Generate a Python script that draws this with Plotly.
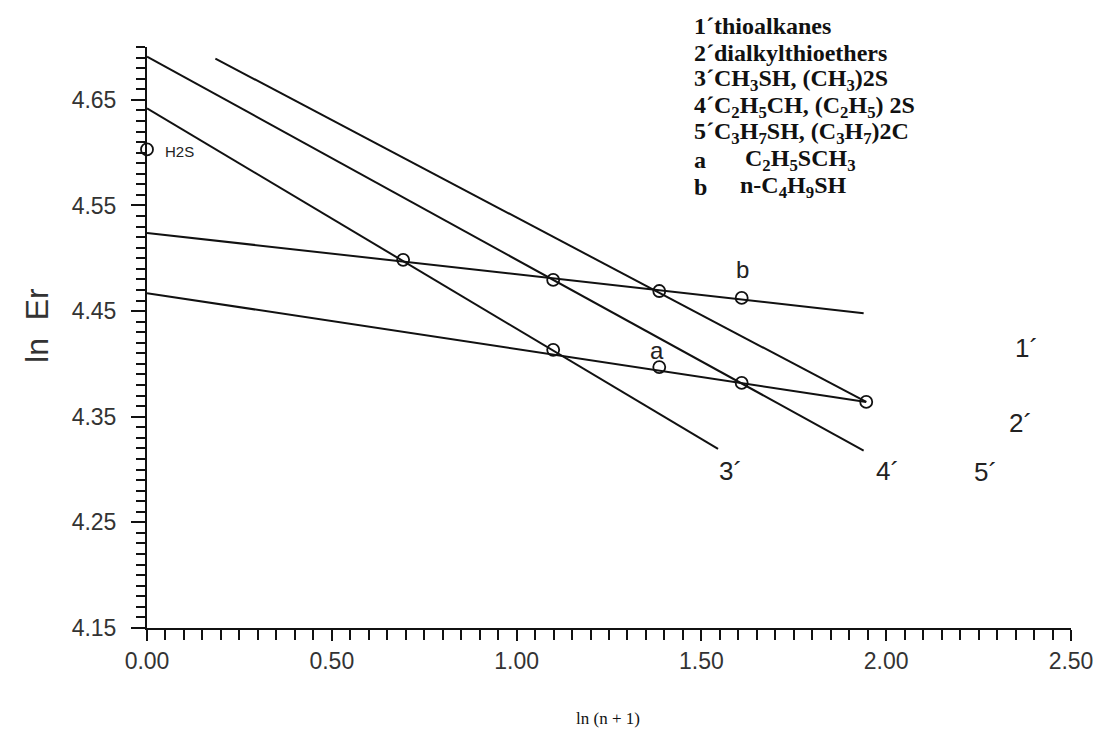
import plotly.graph_objects as go

# ---- data ----
line1_x = [0.0, 1.939]          # 1' thioalkanes
line1_y = [4.524, 4.448]
line2_x = [0.0, 1.946]          # 2' dialkylthioethers
line2_y = [4.467, 4.364]
line3_x = [0.0, 1.545]          # 3' CH3SH, (CH3)2S
line3_y = [4.642, 4.3195]
line4_x = [0.0, 1.939]          # 4' C2H5SH, (C2H5)2S
line4_y = [4.691, 4.318]
line5_x = [0.185, 1.946]        # 5' C3H7SH, (C3H7)2S
line5_y = [4.689, 4.364]

point_x = [0.0, 0.693, 1.099, 1.386, 1.609, 1.099, 1.386, 1.609, 1.946]
point_y = [4.603, 4.4985, 4.4795, 4.469, 4.4625, 4.4133, 4.397, 4.382, 4.364]

ytick_vals = [4.15, 4.25, 4.35, 4.45, 4.55, 4.65]
ytick_text = ["4.15", "4.25", "4.35", "4.45", "4.55", "4.65"]
xtick_vals = [0.0, 0.5, 1.0, 1.5, 2.0, 2.5]
xtick_text = ["0.00", "0.50", "1.00", "1.50", "2.00", "2.50"]

legend_lines = [
    "1´thioalkanes",
    "2´dialkylthioethers",
    "3´CH<sub>3</sub>SH, (CH<sub>3</sub>)2S",
    "4´C<sub>2</sub>H<sub>5</sub>CH, (C<sub>2</sub>H<sub>5</sub>) 2S",
    "5´C<sub>3</sub>H<sub>7</sub>SH, (C<sub>3</sub>H<sub>7</sub>)2C",
]
legend_keys = ["a", "b"]
legend_formulas = ["C<sub>2</sub>H<sub>5</sub>SCH<sub>3</sub>", "n-C<sub>4</sub>H<sub>9</sub>SH"]

line_labels = ["1´", "2´", "3´", "4´", "5´"]
line_label_x = [2.342, 2.328, 1.542, 1.966, 2.232]
line_label_y = [4.415, 4.344, 4.2985, 4.2985, 4.2977]

fig = go.Figure()
for xs, ys in [(line1_x, line1_y), (line2_x, line2_y), (line3_x, line3_y),
               (line4_x, line4_y), (line5_x, line5_y)]:
    fig.add_trace(go.Scatter(x=xs, y=ys, mode="lines",
                             line=dict(color="#111111", width=2),
                             showlegend=False, hoverinfo="skip"))

fig.add_trace(go.Scatter(x=point_x, y=point_y, mode="markers",
                         marker=dict(symbol="circle-open", size=12,
                                     color="#111111", line=dict(width=1.8)),
                         showlegend=False, cliponaxis=False))

sans = "Liberation Sans, Arial, sans-serif"
serif = "Liberation Serif, Times New Roman, serif"

ann = []
for t, x, y in zip(line_labels, line_label_x, line_label_y):
    ann.append(dict(x=x, y=y, xref="x", yref="y", text=t, showarrow=False,
                    xanchor="left", yanchor="middle",
                    font=dict(family=sans, size=26, color="#222")))
ann.append(dict(x=1.381, y=4.413, xref="x", yref="y", text="a", showarrow=False,
                font=dict(family=sans, size=24, color="#222")))
ann.append(dict(x=1.612, y=4.489, xref="x", yref="y", text="b", showarrow=False,
                font=dict(family=sans, size=24, color="#222")))
ann.append(dict(x=0.043, y=4.601, xref="x", yref="y", text="H2S", showarrow=False,
                xanchor="left", yanchor="middle",
                font=dict(family=sans, size=15, color="#222")))

# legend block (top right)
px_left, px_w = 147, 932
py_bottom, py_h = 628, 581
leg_y_px = [26, 53, 80, 107, 133, 160, 187]
for i, t in enumerate(legend_lines):
    ann.append(dict(x=(697 - px_left) / px_w, y=(py_bottom - leg_y_px[i]) / py_h,
                    xref="paper", yref="paper", text="<b>" + t + "</b>",
                    showarrow=False, xanchor="left", yanchor="middle",
                    font=dict(family=serif, size=24, color="#111")))
for j, (k, f) in enumerate(zip(legend_keys, legend_formulas)):
    ypx = leg_y_px[5 + j]
    ann.append(dict(x=(697 - px_left) / px_w, y=(py_bottom - ypx) / py_h,
                    xref="paper", yref="paper", text="<b>" + k + "</b>",
                    showarrow=False, xanchor="left", yanchor="middle",
                    font=dict(family=serif, size=24, color="#111")))
    ann.append(dict(x=((748 if j == 0 else 743) - px_left) / px_w,
                    y=(py_bottom - ypx) / py_h,
                    xref="paper", yref="paper", text="<b>" + f + "</b>",
                    showarrow=False, xanchor="left", yanchor="middle",
                    font=dict(family=serif, size=24, color="#111")))

# axis titles
ann.append(dict(x=(36 - px_left) / px_w, y=(py_bottom - 325) / py_h,
                xref="paper", yref="paper", text="ln\u00a0\u00a0Er", textangle=-90,
                showarrow=False, xanchor="center", yanchor="middle",
                font=dict(family=sans, size=32, color="#333")))
ann.append(dict(x=(612 - px_left) / px_w, y=(py_bottom - 718) / py_h,
                xref="paper", yref="paper", text="ln (n + 1)",
                showarrow=False, xanchor="center", yanchor="middle",
                font=dict(family=serif, size=17, color="#111")))

fig.update_layout(
    width=1105, height=734,
    margin=dict(l=147, r=26, t=47, b=106),
    paper_bgcolor="white", plot_bgcolor="white",
    showlegend=False,
    annotations=ann,
)
fig.update_xaxes(range=[0, 2.5], tickvals=xtick_vals, ticktext=xtick_text,
                 showgrid=False, zeroline=False, showline=True, linecolor="#111",
                 linewidth=2, ticks="outside", ticklen=11, tickwidth=1.5,
                 tickcolor="#111", ticklabelstandoff=0,
                 tickfont=dict(family=sans, size=23, color="#333"),
                 minor=dict(dtick=0.05, tick0=0, ticks="outside", ticklen=10,
                            tickwidth=1.5, tickcolor="#111", showgrid=False))
fig.update_yaxes(range=[4.15, 4.70], tickvals=ytick_vals, ticktext=ytick_text,
                 showgrid=False, zeroline=False, showline=True, linecolor="#111",
                 linewidth=2, ticks="outside", ticklen=14, tickwidth=1.5,
                 tickcolor="#111", ticklabelstandoff=10,
                 tickfont=dict(family=sans, size=23, color="#333"),
                 minor=dict(dtick=0.01, tick0=4.15, ticks="outside", ticklen=9,
                            tickwidth=1.5, tickcolor="#111", showgrid=False))

fig.write_html("out.html")
